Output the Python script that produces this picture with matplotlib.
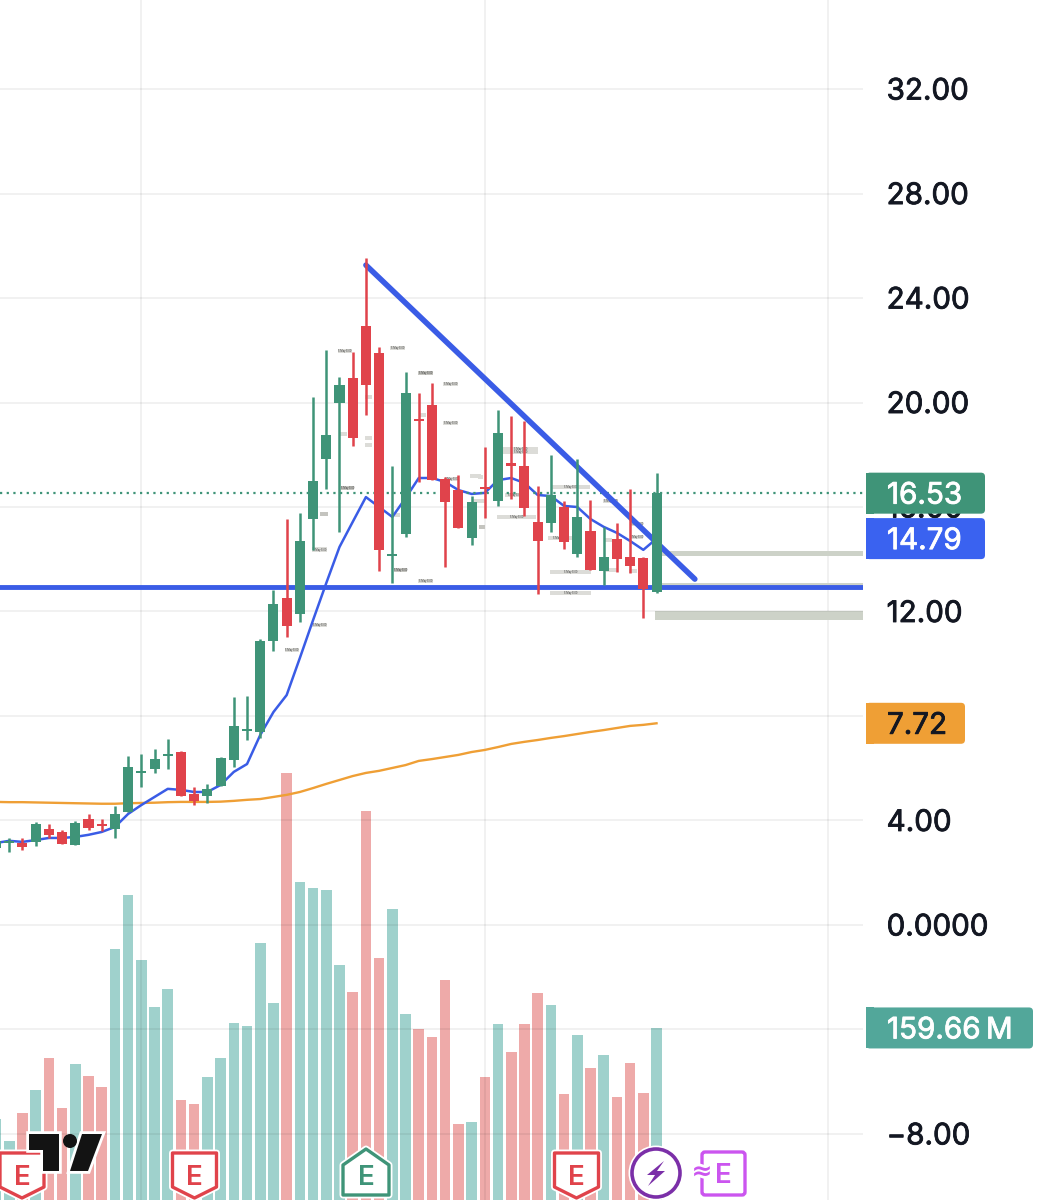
import matplotlib
matplotlib.use('Agg')
import matplotlib.pyplot as plt
import matplotlib.patheffects as pe
from matplotlib.patches import Rectangle, Polygon, Circle, FancyBboxPatch

plt.rcParams['font.family'] = ['Inter', 'DejaVu Sans']

opens = [2.95, 3.14, 3.12, 3.18, 3.67, 3.56, 3.06, 4.06, 3.87, 3.67, 4.33, 5.82, 5.97, 6.47, 6.62, 5.01, 4.94,
         5.32, 6.32, 7.43, 7.39, 10.87, 12.52, 11.91, 15.54, 17.84, 19.98, 20.94, 22.93, 21.90, 14.13, 14.97,
         19.37, 19.91, 17.07, 16.65, 14.81, 16.77, 16.23, 17.69, 17.57, 15.43, 15.39, 16.00, 14.20, 15.08,
         13.55, 14.78, 14.09, 14.05, 12.75]
highs = [3.33, 3.33, 3.33, 3.94, 3.87, 3.64, 3.98, 4.25, 4.06, 4.56, 6.47, 6.55, 6.74, 7.12, 6.66, 5.28, 5.40,
         6.43, 8.73, 8.77, 10.95, 12.82, 15.54, 15.77, 20.21, 22.01, 20.98, 21.93, 25.53, 22.13, 17.57, 21.17,
         20.37, 20.75, 17.15, 17.23, 16.42, 18.30, 19.71, 19.49, 19.29, 16.80, 17.99, 16.23, 17.84, 16.27,
         15.24, 15.39, 16.69, 14.09, 17.30]
lows = [2.37, 2.79, 2.87, 3.02, 3.33, 3.10, 3.06, 3.64, 3.60, 3.33, 4.33, 5.28, 5.82, 5.97, 4.94, 4.59, 4.67,
        5.32, 6.05, 7.08, 7.16, 10.49, 11.02, 11.60, 14.36, 16.69, 15.04, 18.34, 19.52, 13.55, 13.09, 14.85,
        16.96, 17.03, 13.70, 15.20, 14.55, 15.58, 16.04, 16.31, 15.66, 12.67, 15.04, 14.39, 14.09, 13.59,
        13.02, 13.51, 13.47, 11.75, 12.71]
closes = [3.22, 3.22, 2.99, 3.87, 3.45, 3.10, 3.90, 3.71, 3.79, 4.25, 6.05, 5.90, 6.35, 6.55, 4.94, 4.75, 5.21,
          6.39, 7.62, 7.50, 10.87, 12.29, 11.45, 14.70, 17.00, 18.76, 20.67, 18.64, 20.67, 14.36, 14.20, 20.37,
          19.29, 17.03, 16.19, 15.20, 16.19, 16.69, 18.83, 17.57, 15.96, 14.70, 16.46, 14.66, 15.62, 13.59,
          14.09, 14.01, 13.74, 12.86, 16.53]
ma_fast = [3.14, 3.22, 3.18, 3.25, 3.33, 3.33, 3.37, 3.45, 3.56, 3.75, 4.25, 4.59, 4.90, 5.21, 5.17, 5.09, 5.09,
           5.36, 5.86, 6.16, 7.27, 8.15, 8.80, 10.22, 11.67, 13.09, 14.47, 15.43, 16.38, 16.00, 15.62, 16.34,
           17.11, 17.11, 16.96, 16.65, 16.50, 16.54, 17.03, 17.11, 16.92, 16.46, 16.42, 16.04, 16.00, 15.54,
           15.24, 15.01, 14.70, 14.36, 14.79]
ma_slow = [4.71, 4.70, 4.70, 4.69, 4.68, 4.67, 4.66, 4.65, 4.64, 4.64, 4.66, 4.67, 4.68, 4.70, 4.71, 4.71, 4.71,
           4.72, 4.75, 4.79, 4.82, 4.90, 4.98, 5.09, 5.24, 5.40, 5.55, 5.70, 5.82, 5.90, 6.01, 6.12, 6.28, 6.35,
           6.43, 6.51, 6.62, 6.70, 6.81, 6.93, 7.01, 7.08, 7.16, 7.23, 7.31, 7.39, 7.46, 7.54, 7.62, 7.66, 7.72]
volumes = [75.2, 54.8, 80.7, 102.1, 131.8, 85.4, 126.2, 115.1, 104.9, 232.9, 283.0, 222.7, 179.1, 195.8, 92.8,
           89.1, 114.1, 131.8, 164.3, 161.5, 238.5, 182.8, 396.3, 295.1, 289.5, 287.7, 218.1, 193.0, 361.0, 224.6,
           270.0, 172.6, 158.7, 151.3, 204.2, 70.5, 72.4, 114.1, 163.3, 137.3, 163.3, 192.1, 181.0, 98.4, 153.1,
           122.5, 134.6, 95.6, 127.1, 99.3, 159.66]

price_ticks = [32, 28, 24, 20, 16, 12, 8, 4, 0, -4, -8]
# 8.00 sits fully under the orange badge and -4 under the volume badge
price_labels = ['32.00', '28.00', '24.00', '20.00', '16.00', '12.00', '', '4.00', '0.0000', '', '\u22128.00']
date_ticks = [11, 37, 63]

# trend lines drawn on the chart (bar index, price)
trend_x = [28, 52.9]
trend_y = [25.26, 13.24]
support = 12.94
# shaded zones to the right of the last bar (low, high)
zones = [(14.12, 14.32), (12.82, 13.09), (11.67, 12.02)]
# tiny session labels: bar index, price, width in bars, dark or not
tag_x = [26.4, 30.4, 32.5, 34.4, 34.4, 28.2, 26.3, 28.2, 28.2, 32.3, 26.6, 24.8, 24.5, 30.3, 30.6, 32.5, 34.5,
         36.3, 36.4, 22.4, 24.5, 39.7, 39.7, 43.5, 39.4, 43.5, 43.5, 46.5, 42.7, 48.5, 48.5, 46.6, 46.3, 48.2,
         39.3, 36.8, 36.7, 36.8]
tag_y = [21.97, 22.09, 21.13, 20.71, 19.22, 20.21, 18.80, 18.64, 18.37, 19.52, 16.73, 15.73, 14.36, 15.69, 13.59,
         13.17, 17.07, 17.19, 16.23, 10.53, 11.48, 18.22, 18.11, 16.77, 15.62, 13.51, 12.71, 16.23, 14.81, 15.35,
         14.85, 13.59, 14.74, 13.55, 16.46, 15.24, 17.15, 16.23]
tag_w = [1.1, 1.1, 1.1, 1.1, 1.1, 0.5, 0.6, 0.5, 0.5, 0.5, 1.0, 0.6, 1.1, 0.5, 1.0, 1.1, 0.9, 0.8, 0.6, 1.1, 1.1,
         2.7, 2.7, 3.0, 3.0, 3.1, 3.1, 1.1, 1.9, 0.9, 0.9, 0.8, 0.6, 0.6, 1.5, 0.5, 0.4, 0.4]
tag_dark = [2, 10, 11, 14, 35]

GREEN = '#3f9478'
RED = '#e0434b'
BLUE = '#3a5ce6'
ORANGE = '#ef9f35'
INK = '#131722'

fig = plt.figure(figsize=(10.43, 12), dpi=100)
vol_ax = fig.add_axes([0, 0, 863 / 1043, 1])
ax = vol_ax.twinx()
ax.set_zorder(vol_ax.get_zorder() + 1)
ax.patch.set_visible(False)

x = list(range(len(closes)))
up = [c >= o for o, c in zip(opens, closes)]

vol_ax.bar(x, volumes, width=0.8, color=['#9fd1cc' if u else '#eeaaa9' for u in up], linewidth=0)
vol_ax.set_xlim(0.3, 65.63)
vol_ax.set_ylim(0, 1113.6)
vol_ax.set_yticks([])
vol_ax.set_xticks(date_ticks)
vol_ax.tick_params(length=0, labelbottom=False)
vol_ax.grid(False)

ax.set_ylim(-10.53, 35.41)
ax.set_yticks(price_ticks)
ax.set_yticklabels(price_labels, fontsize=21.3, color=INK)
for lab in ax.get_yticklabels():
    lab.set_path_effects([pe.withStroke(linewidth=0.6, foreground=INK)])
ax.tick_params(axis='y', length=0, pad=17)
ax.grid(True, axis='y', color='black', alpha=0.06, linewidth=1.3)
for xt in date_ticks:
    ax.axvline(xt, color='black', alpha=0.06, linewidth=1.3, zorder=0.5)
for side in ax.spines.values():
    side.set_visible(False)
for side in vol_ax.spines.values():
    side.set_visible(False)

for lo, hi in zones:
    ax.add_patch(Rectangle((49.9, lo), 16, hi - lo, facecolor='#cdd2c8', edgecolor='none', zorder=1))

for i, (tx, ty, tw) in enumerate(zip(tag_x, tag_y, tag_w)):
    dark = i in tag_dark
    ax.add_patch(Rectangle((tx - tw / 2, ty - 0.09), tw, 0.18, facecolor='#c4c4bf' if dark else '#dcdcd8',
                           edgecolor='none', zorder=1.5))
    if tw >= 0.9:
        ax.text(tx, ty, '5 May 8:00', fontsize=1.8, color='#333333', ha='center', va='center', zorder=1.6)

ax.plot(x, ma_slow, color=ORANGE, linewidth=1.7, zorder=2)
ax.plot(x, ma_fast, color=BLUE, linewidth=1.8, zorder=2)
ax.plot(trend_x, trend_y, color=BLUE, linewidth=4, solid_capstyle='round', zorder=2.2)
ax.axhline(support, color=BLUE, linewidth=3.5, zorder=2.2)
ax.axhline(closes[-1], color=GREEN, linewidth=1.6, linestyle=(0, (1, 2)), zorder=2.1)

colors = [GREEN if u else RED for u in up]
ax.vlines(x, lows, highs, colors=colors, linewidth=1.8, zorder=3)
ax.bar(x, [abs(c - o) for o, c in zip(opens, closes)], bottom=[min(o, c) for o, c in zip(opens, closes)],
       width=0.76, color=colors, linewidth=0, zorder=3.1)

# overlay in pixel coordinates for the badges and icons
top = fig.add_axes([0, 0, 1, 1], zorder=10)
top.set_xlim(0, 1043)
top.set_ylim(1200, 0)
top.axis('off')
top.patch.set_visible(False)


def to_px(axis, value):
    return 1200 - axis.transData.transform((0, value))[1]


def badge(y, right, color, label, text_color='white'):
    top.add_patch(FancyBboxPatch((870, y - 16.5), right - 874, 33, boxstyle='round,pad=4,rounding_size=4',
                                 facecolor=color, edgecolor='none', zorder=2))
    top.add_patch(Rectangle((866, y - 20.5), 8, 41, facecolor=color, edgecolor='none', zorder=2))
    top.text(887, y, label, fontsize=21.3, color=text_color, va='center_baseline', ha='left', zorder=3,
             path_effects=[pe.withStroke(linewidth=0.6, foreground=text_color)])


badge(to_px(ax, closes[-1]), 985, GREEN, f'{closes[-1]:.2f}')
badge(to_px(ax, ma_fast[-1]), 985, '#3a62f0', f'{ma_fast[-1]:.2f}')
badge(to_px(ax, ma_slow[-1]), 965, ORANGE, f'{ma_slow[-1]:.2f}', INK)
badge(to_px(vol_ax, volumes[-1]), 1033, '#52a79a', f'{volumes[-1]:.2f}\u2009M')


def earnings(shape, cx, cy, color):
    top.add_patch(Polygon(shape, closed=True, facecolor='white', edgecolor=color, linewidth=2.4, joinstyle='round',
                          zorder=5, path_effects=[pe.withStroke(linewidth=5, foreground='white')]))
    top.text(cx, cy, 'E', fontsize=20, color=color, ha='center', va='center_baseline', fontweight='semibold', zorder=6)


for cx in [22, 194.5, 576.5]:
    earnings([(cx - 22, 1153), (cx + 22, 1153), (cx + 22, 1187), (cx, 1198), (cx - 22, 1187)], cx, 1175, RED)
earnings([(366, 1149), (389, 1165), (389, 1195), (343, 1195), (343, 1165)], 366, 1175, '#3f9478')

# tradingview mark, sits over the first earnings badge
for shape in ([(29, 1134), (59, 1134), (59, 1171), (43, 1171), (43, 1150), (29, 1150)],
              [(82, 1134), (102, 1134), (88, 1171), (70, 1171)]):
    top.add_patch(Polygon(shape, closed=True, facecolor='#131313', edgecolor='none', zorder=7,
                          path_effects=[pe.withStroke(linewidth=4, foreground='white')]))
top.add_patch(Circle((70, 1141), 7, facecolor='#131313', edgecolor='none', zorder=7))

# dividend / split style icons
top.add_patch(Circle((656, 1173), 24, facecolor='white', edgecolor='#7b2fa8', linewidth=2.6, zorder=5,
                     path_effects=[pe.withStroke(linewidth=5, foreground='white')]))
top.add_patch(Polygon([(664, 1161), (647, 1175), (655, 1175), (648, 1186), (665, 1171), (657, 1171)], closed=True,
                      facecolor='#7b2fa8', edgecolor='none', zorder=6))
top.add_patch(FancyBboxPatch((702, 1152), 43, 43, boxstyle='round,pad=0,rounding_size=3', facecolor='white',
                             edgecolor='#cb55ef', linewidth=2.4, zorder=5))
top.text(723, 1173, 'E', fontsize=20, color='#cb55ef', ha='center', va='center_baseline', fontweight='semibold', zorder=6)
top.text(702, 1172, '\u2248', fontsize=18, color='#cb55ef', ha='center', va='center', fontweight='bold', zorder=6,
         family='DejaVu Sans', path_effects=[pe.withStroke(linewidth=4, foreground='white')])

fig.savefig('out.png', dpi=100)
